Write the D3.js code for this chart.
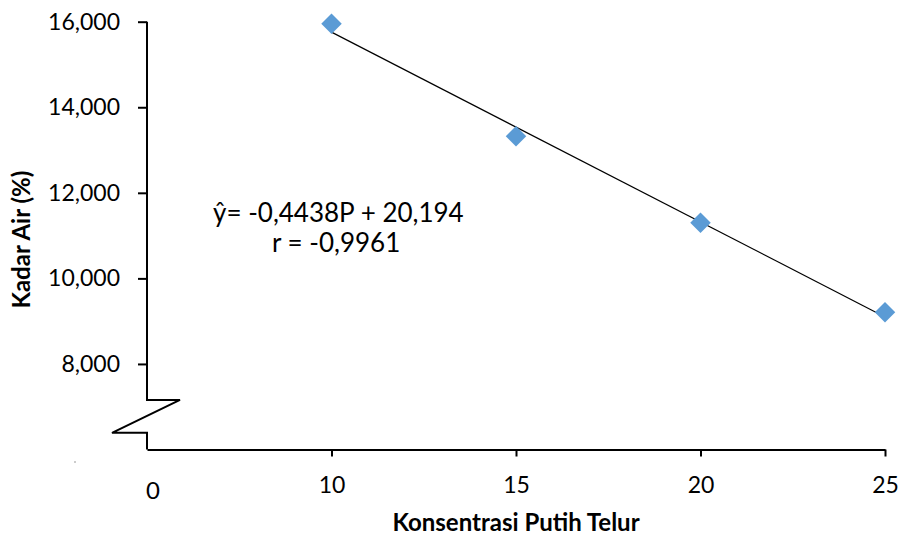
<!DOCTYPE html>
<html>
<head>
<meta charset="utf-8">
<script src="https://cdn.jsdelivr.net/npm/d3@7"></script>
<style>
  body { margin: 0; background: #fff; }
  text { font-family: Lato, "Open Sans", sans-serif; fill: #000; }
</style>
</head>
<body>
<svg id="chart" width="902" height="538"></svg>
<script>
// data
let konsentrasi = [10, 15, 20, 25];
let kadarAir = [15.95, 13.32, 11.30, 9.21];
let xTicks = [10, 15, 20, 25];
let yTicks = [8, 10, 12, 14, 16];
let slope = -0.4438;
let intercept = 20.194;
let eqLines = ["ŷ= -0,4438P + 20,194", "r = -0,9961"];

let svg = d3.select("#chart");

let x = d3.scaleLinear().domain([5, 25]).range([147, 885]);
let y = d3.scaleLinear().domain([6, 16]).range([449.5, 21.7]);

let idLocale = d3.formatLocale({decimal: ",", thousands: ".", grouping: [3], currency: ["", ""]});
let fmt = idLocale.format(".3f");

function drawAxes() {
  let axisY = svg.append("g")
    .attr("transform", `translate(${x(5)},0)`)
    .call(d3.axisLeft(y).tickValues(yTicks).tickFormat(fmt).tickSize(9).tickPadding(18));
  axisY.select(".domain").remove();
  axisY.selectAll("line").attr("stroke", "#000").attr("stroke-width", 2);
  axisY.selectAll("text").style("font-size", "23px");

  let axisX = svg.append("g")
    .attr("transform", `translate(0,${y(6)})`)
    .call(d3.axisBottom(x).tickValues(xTicks).tickSizeInner(7).tickSizeOuter(0).tickPadding(20));
  axisX.select(".domain").attr("stroke", "#000").attr("stroke-width", 2);
  axisX.selectAll("line").attr("stroke", "#000").attr("stroke-width", 2);
  axisX.selectAll("text").style("font-size", "23px");

  // y axis with the zigzag break down to the origin
  let x0 = x(5);
  let breakTop = y(7.16);
  let breakBottom = y(6.39);
  let path = d3.path();
  path.moveTo(x0, y(16));
  path.lineTo(x0, breakTop);
  path.lineTo(x0 + 33, breakTop);
  path.lineTo(x0 - 35, breakBottom);
  path.lineTo(x0, breakBottom);
  path.lineTo(x0, y(6));
  svg.append("path")
    .attr("d", path.toString())
    .attr("fill", "none")
    .attr("stroke", "#000")
    .attr("stroke-width", 2);

  // hand-written origin label
  svg.append("text")
    .attr("x", x0 + 6)
    .attr("y", y(6) + 49)
    .attr("text-anchor", "middle")
    .style("font-size", "24px")
    .text("0");

  // small stray mark left of the break
  svg.append("rect")
    .attr("x", x0 - 73).attr("y", y(6) + 12)
    .attr("width", 2).attr("height", 1)
    .attr("fill", "#999");
}

function drawData() {
  svg.append("line")
    .attr("x1", x(10)).attr("y1", y(slope * 10 + intercept))
    .attr("x2", x(25)).attr("y2", y(slope * 25 + intercept))
    .attr("stroke", "#000")
    .attr("stroke-width", 1.2);

  svg.selectAll(".pt")
    .data(konsentrasi)
    .enter()
    .append("path")
    .attr("class", "pt")
    .attr("d", d3.symbol().type(d3.symbolSquare).size(210))
    .attr("transform", (d, i) => `translate(${x(d)},${y(kadarAir[i])}) rotate(45)`)
    .attr("fill", "#5b9bd5");
}

function drawLabels() {
  svg.append("text")
    .attr("x", 213).attr("y", 222)
    .style("font-size", "26px")
    .text(eqLines[0]);
  svg.append("text")
    .attr("x", 272).attr("y", 252)
    .style("font-size", "26px")
    .text(eqLines[1]);

  svg.append("text")
    .attr("transform", `translate(30,${(y(6) + y(16)) / 2 + 4}) rotate(-90)`)
    .attr("text-anchor", "middle")
    .style("font-size", "24px")
    .style("font-weight", "bold")
    .text("Kadar Air (%)");

  svg.append("text")
    .attr("x", (x(5) + x(25)) / 2)
    .attr("y", 531)
    .attr("text-anchor", "middle")
    .style("font-size", "24px")
    .style("font-weight", "bold")
    .text("Konsentrasi Putih Telur");
}

drawAxes();
drawData();
drawLabels();
</script>
</body>
</html>
